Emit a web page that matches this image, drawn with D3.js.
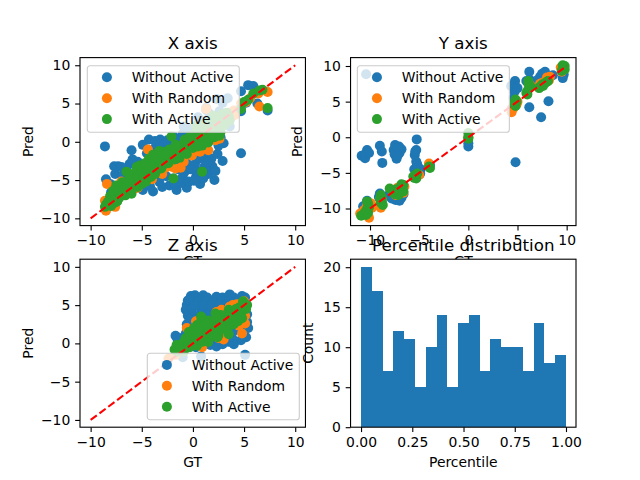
<!DOCTYPE html>
<html>
<head>
<meta charset="utf-8">
<script src="https://d3js.org/d3.v7.min.js"></script>
<style>
html, body { margin: 0; padding: 0; background: #fff; }
svg { display: block; }
text { font-family: "DejaVu Sans"; fill: #000; }
.tick text { font-size: 13.9px; }
</style>
</head>
<body>
<svg id="chart" width="640" height="480"></svg>
<script>
const seriesNames = ['Without Active', 'With Random', 'With Active'];
const seriesColors = ['#1f77b4', '#ff7f0e', '#2ca02c'];
const scatterTicks = [-10, -5, 0, 5, 10];
const identityLine = [-10, 10];

// [gt, pred] pairs
const xWithoutActive = [[-8.6,-0.6],[-6,-1.1],[-4.3,0.3],[-4.9,-0.4],[-7.3,-3.2],[-7.7,-3.2],[-8.5,-4.9],[-8.1,-5.5],[-7.6,-4.2],[-5.4,-2.6],[-5.1,-3.3],
[-4.5,-1.5],[-3.6,-0.6],[-3.2,0.3],[-2.5,0.2],[-1.8,0.6],[-1,1],[-2.9,-1.2],[-2.2,-2],[-1.5,-2.4],[-0.6,-2.8],[0.2,-2.9],[0.8,-2],[1.3,-1.8],[1.8,-2.2],[1.9,-3.2],[2.9,-2.5],[3,-0.2],[2.1,-5],
[1.5,-4.2],[0.7,-5.5],[0.3,-4.6],[-0.6,-6],[-1,-4.6],[-1.6,-6.3],[-2.3,-5.7],[-1.9,-4.8],[-3.9,-6.5],[-4.9,-6.3],[-3.3,-5.2],[-4.3,-5.4],[-5.5,-5.6],[-6.6,-6],[-7.1,-5.8],[-7.4,-7.3],[-8.3,-7.9],
[1.3,4.4],[1.9,3],[0,0.6],[0.9,-0.8],[-0.4,1.7],[0.5,3.2],[-0.9,2],[3.6,2],[3.4,5.7],[2.3,5.6],[1.3,4.2],[2.2,2.8],[3.6,3.3],[4.7,6.6],[5.4,7.4],[5.9,7.3],[6.2,6.7],[7.3,4.1],[6.3,5],[4.7,-1.5],[4.7,4],[5.2,5.1],[-3.3,-3],[-0.3,-1.2],[-6.2,-2.9],[-5.6,-4.5],
[-6.5,-3.5],[-6,-4.6],[-5.8,-5.8],[-5,-4.5],[-4.6,-3.3],[-4.2,-5.8],[-3.8,-4.4],[-3.4,-1.5],[-3,-5.9],[-2.6,-4.5],[-2.5,-3.2],[-2.1,-0.6],[-1.8,-5.5],[-1.4,-3.6],[-1.2,-5.4],[-0.8,-3.9],[-0.4,-5.2],[-0.2,-3.6],[0.1,-5.1],[0.4,-3.8],[0.6,-2.2],[1,-4.8],[1.1,-3.3],[1.4,-2.7],[2.2,-3.8],[2.4,-1.6],[2.5,-0.5],[2.7,0.6],[-3.7,0.1],[-4,-1.1],[-2.8,-0.3],[-1.3,0.2],[-0.6,0.4],[0.3,1.3],[1,2.7],[1.6,3.7],[2.6,4],[2.9,5.1],[-7.5,-6.5],[-8,-6.6],[-6.9,-4.4],[-7,-3.3],[-5.9,-2.3]];
const xWithRandom = [[-8.4,-5.5],[-8.5,-9],[-7.6,-8.5],[-6.7,-6.5],[-6.2,-5.8],[-5.4,-6],[-4.4,-1],[-4.2,-2.9],[-3.6,-3.3],[-3,-4.2],[-2.4,-1.8],[-2,-3.3],[-1.2,-3.4],[-0.8,-1.9],[-0.4,-1.5],[0.2,-0.6],[1.5,-1.1],[0.5,1],[1.4,1.6],
[2.3,1.6],[3,2.5],[3.4,2.8],[4,4.1],[1.3,4.3],[2.4,3],[4.7,5],[5.2,5.2],[6.5,4.6],[7.3,6.5],[6.4,6.3],[5.6,5.7],[-7.1,-7.1],[-5.6,-4.9],[-3.3,-2],[-1.5,-1.2],[0,-0.2],[-0.9,-0.3],
[-7.7,-6],[-6,-5.1],[-5.7,-6.1],[-4.7,-5.2],[-4,-4.9],[-2.7,-3.4],[-1.7,-3.5],[-0.9,-2.6],[-0.1,-1.8],[0.7,-1.3],[1.3,-0.9],[2.2,0.2],[2.6,0.4],[3.6,3.8],[4.1,3.5],[-7,-5.2],[-8.6,-7.7]];
const xWithActive = [[-8.6,-8.5],[-8.5,-8.2],[-8.1,-7.1],[-7.5,-5.7],[-7.1,-6.1],[-6.6,-7],[-6.5,-3.9],[-6.2,-6],[-5.7,-4.8],[-5.5,-3.3],[-5.2,-3.1],[-5,-5.5],[-4.8,-4],[-4.4,-3.5],[-4.3,-2.2],[-3.9,-1.7],[-3.5,-2.8],[-3.1,-3.5],[-3,-2.4],[-2.6,-2],
[-2.2,-2.1],[-2.1,0.7],[-2,-1.5],[-1.9,-4.8],[-1.5,-0.9],[-1.2,-1.4],[-1,-0.4],[-0.5,-0.6],[-0.2,-0.1],[0.1,0.5],[0.4,-0.2],[0.6,0.8],[0.9,-0.5],[0.9,-3.9],[1.2,1],[1.6,0.5],[1.7,1.6],[2.1,0.6],[2.4,2.2],[2.7,1.3],[3,3],[3.5,3.3],[3.1,2.2],[1.6,2.6],[2.2,1.5],[0.8,2],
[4.7,4.3],[5,5.2],[5.4,5.5],[5.9,6.3],[6.5,6.7],[6.8,6.8],[7.3,4.4],[-7.9,-7.5],[-7.7,-8],[-7.2,-7.3],[-6.5,-6.7],[-5.6,-5.2],[-4.5,-4.8],[-3.7,-4.2],[-3.2,-1.6],[-2.7,-1.3],
[-8.3,-7.8],[-8,-8.4],[-7.8,-6.4],[-7.4,-7.8],[-7,-6.8],[-6.9,-5.3],[-6.7,-6.1],[-6.3,-5],[-6,-6.8],[-5.9,-4.2],[-5.4,-5.9],[-5.3,-4.4],[-5,-3.6],[-4.7,-2.8],[-4.6,-5.2],[-4.1,-4.6],[-4,-3],[-3.6,-3.8],[-3.4,-2.2],[-3.3,-1.2],[-2.9,-3],[-2.8,-1.7],[-2.4,-2.8],[-2.3,-1],[-1.8,-2.3],[-1.7,-0.4],[-1.3,-2.1],[-1,-1.2],[-0.8,0.3],[-0.6,-1.6],[-0.3,0.7],[0,-0.8],[0.2,1.1],[0.5,-0.6],[0.7,1.4],[1.1,0.2],[1.3,1.8],[1.5,-0.1],[1.9,2.2],[2,0.9],[2.4,3],[2.6,0.8],[2.9,2.6],[3.3,3.8],[3.6,2.8],[0.3,2.1],[1,2.4],[2,3.4],[2.8,3.6]];

const yWithoutActive = [[-10.4,8.85],[-10.85,-2.6],[-10.5,-2.95],[-10.3,-1.8],[-10.45,-2.3],[-9,-1.2],[-8.8,-2],[-8.75,-3.6],[-7.45,-1.1],[-7.6,-1.8],[-7.05,-1.3],[-6.8,-1.7],[-7.3,-3],[-7,-2.2],[-7.5,-2.4],[-5.25,-0.3],[-5.3,-1.8],[-5.45,-2.5],[-5.3,-3.4],[-5.25,-4.1],[-5.5,-4.5],[-3.9,-3.9],[0,-1.3],[0,-0.85],[4.8,-3.5],[6.2,4.2],[7.4,2.8],[8.15,5.05],[6.2,9.2],[4.75,7.9],[4.75,7.1],[4.7,6.4],[4.35,7.2],[4.6,5.5],[5.9,7.9],[7.3,8.5],[7.8,9.2],[7.5,8.9],[8.2,8.4],[9.6,8.3],[7.9,7.9],[9.7,8.8],[6.3,8],
[-10.3,-8.9],[-10.7,-9.7],[-10.5,-10.3],[-9,-7.9],[-8.9,-9.5],[-7.4,-8.8],[-6.8,-8.5],[-7.6,-8.3],[-6.6,-8],[-8.1,-8.1],[-7.2,-1.6],[-7.2,-2.6],[-10.1,-2.2],[-5.2,-3.8],[-5.4,-2],[-7,-8.9],[-7.8,-8.6],[-4.85,-4.5],[-4.9,-5.1],[5,6.9],[7,8],[8.6,8.7],[7.1,7.6],[-10.2,-9.4],[-9.1,-8.4]];
const yWithRandom = [[-11,-10.7],[-10.1,-11.3],[-10.3,-9.6],[-9.8,-9.9],[-8.9,-9.9],[-8.8,-8.7],[-7.2,-7.1],[-6.9,-6.9],[-7.4,-8.1],[-6.8,-7.3],[-5.4,-5.5],[-4,-3.7],[0,0],[4.4,3.5],[4.6,4.1],[4.9,4.6],[6,6.2],[6.3,7.3],[7.6,7.7],[8,8.4],[8.3,8.5],[9.7,9.7],[9.5,9.2],[-9.9,-9.3],[-10.6,-10.2],[-9,-9.6],[-7.7,-7.5],[-6.5,-6.9],[-6.6,-7.8],[-5,-5.3],[-4,-3.9],[4.4,4],[5,5],[7.3,7.5],[8.2,8],[9.4,9.8]];
const yWithActive = [[-10.9,-11],[-10.5,-10.5],[-10.3,-10],[-10.2,-9.3],[-10.4,-10.9],[-8.9,-9.2],[-8.8,-8.5],[-8.9,-8.1],[-8.7,-9.5],[-8,-7.2],[-7.6,-7.6],[-7.2,-8],[-7,-7.5],[-6.9,-7.1],[-6.7,-7.2],[-6.6,-6.7],[-5.5,-5.7],[-5.4,-5.3],[-5.2,-5.1],[-3.9,-4.3],[0,0.6],[0,0],[0,-0.2],[4.7,4.9],[4.8,5.3],[4.8,4.4],[6.1,7.9],[6,6.5],[6.2,6.9],[6,6],[7.3,7.1],[7.5,7.4],[7.8,7.6],[8.1,7.9],[9.6,9.7],[9.7,9.9],[9.6,10.1],[9.8,9.5],
[-10.6,-10.7],[-10.1,-9.8],[-10.3,-9],[-10.2,-10.6],[-8.8,-9],[-9,-8.6],[-7.5,-8],[-7.1,-8.1],[-7.8,-7.4],[-7.3,-7.3],[-6.6,-7.6],[-6.8,-6.6],[-5.6,-5.5],[-5.3,-5.8],[-4,-4.1],[4.9,5],[4.7,4.6],[6.3,7.2],[5.9,6.2],[6.1,7.5],[7.2,6.9],[7.6,7.2],[8,7.8],[9.5,9.3],[9.8,10]];

const zWithoutActive = [[-0.2,6.2],[0.2,6.3],[1,6.3],[1.4,6],[2.3,6.1],[2.9,6],[3.6,6.4],[4,6],[4.8,6.2],[5.1,6],[-0.5,5.6],[-0.6,5],[-0.7,4.4],[-0.5,3.6],[-0.3,5.7],[0.5,5.5],[1.2,5.5],[2,5.4],[2.8,5.5],[3.5,5.5],[4.3,5.5],[-0.1,4.6],[0.7,4.7],[1.4,4.6],[2.2,4.5],[3,4.7],[3.9,4.7],[0,3.8],[0.8,3.9],[1.5,3.7],[2.3,3.7],[3.2,3.7],[5.1,4.6],[5.3,3.8],
[-1.7,1],[-1.5,0.5],[-1.1,0.7],[-0.7,1.3],[0,0.5],[0.8,0],[1.7,-0.2],[2.3,-0.4],[2.9,-0.1],[4,-0.1],[4,0.4],[5.2,0.8],[5.4,2],[5.3,2.8],[0.8,-1.7],[5.1,-1.5],[-1,-1.8],[4.8,1.5],[3.3,0.8],[1.1,1.1],[4.5,2.8],[-0.6,2.5],
[0.2,5],[1,5],[1.8,5],[2.6,5],[3.3,5.1],[4,5.2],[4.6,4.6],[-0.3,3.1],[0.4,3.2],[1.1,3.2],[1.9,3],[2.8,3],[3.6,2.9],[4.3,3.5],[4.7,0.4],[3.5,0.2],[2.6,0.3],[1.9,0.6],[1.3,0.2],[0.5,0.9],[-0.2,1.5],[-0.4,0.2],[5,2.2],[4.5,1.9],[3.9,1.5],[-0.2,-0.2],[0.3,-0.5]];
const zWithRandom = [[-2.4,-2],[-1.7,-1.5],[-1,-0.9],[-0.5,-0.4],[-0.6,2],[0.2,1.1],[0.3,2.9],[0.9,-0.5],[0.7,3.1],[1.3,0.5],[1.7,1.2],[2.5,0.7],[3,0.5],[3.2,2],[2.8,4.4],[3.5,3.5],[3.6,4.8],[4.5,2.3],[4.8,1.3],[5.1,2.6],[5,5.5],[4.6,5.1],[4.2,3.7],[5.1,3.6],[-0.2,1.3],[0.5,0.2],[1.9,2.7],[3,0.8],[3.9,5],[4.3,5.1],[2.3,4.1]];
const zWithActive = [[-1.8,-0.8],[-1.5,-1.1],[-1.6,-0.2],[-1,0],[-0.9,-1.1],[-0.5,0.3],[-0.4,1.5],[-0.3,-0.5],[0,0.8],[0.1,2],[0.4,-0.3],[0.5,1.4],[0.8,2.9],[0.8,3.5],[1.1,0.9],[1.2,2.5],[1.5,3],[1.5,0.2],[1.9,1.7],[2.1,2.3],[2.2,3.9],[2.5,1.1],[2.6,2.8],[2.9,3.4],[3,1.9],[3.3,2.6],[3.5,4.4],[3.5,1.2],[3.9,3.1],[4.1,4],[4.3,3.2],[4.5,4.7],[4.7,3.9],[4.9,5.5],[5,4.6],[5.1,5.1],[5.3,5],[5.2,4.5],[0.6,0.5],[1.7,0.8],[2.8,2.2],[-0.7,0.7],
[-1.2,-0.5],[-0.8,0.4],[-0.2,1],[-0.1,-0.1],[0.2,0.5],[0.3,1.6],[0.4,2.4],[0.6,1.9],[0.8,1.1],[0.9,0.2],[1,1.6],[1.3,2],[1.4,1.2],[1.6,2.4],[1.8,1.3],[2,2.8],[2.2,1.6],[2.3,3],[2.4,0.8],[2.7,1.9],[2.7,3.7],[3.1,2.9],[3.2,3.7],[3.4,1.9],[3.7,2.5],[3.7,3.8],[4,2.5],[4.2,4.5],[4.4,2.9],[4.6,4.3],[4.8,3.3],[4.9,4.9]];

const percentileCounts = [20, 17, 7, 12, 11, 5, 10, 14, 5, 13, 14, 7, 11, 10, 10, 7, 13, 8, 9];
const percentileTicks = [0, 0.25, 0.5, 0.75, 1];
const countTicks = [0, 5, 10, 15, 20];

const svg = d3.select('svg#chart');
const plotW = 225.45, plotH = 168;
const tickLen = 4.86, tickPad = 4.86;
const dotR = 5;

// one subplot: white background, then marks from draw(), then axes and text
const addPanel = (cfg) => {
    const g = svg.append('g').attr('transform', `translate(${cfg.left},${cfg.top})`);
    g.append('rect').attr('width', plotW).attr('height', plotH).attr('fill', '#fff');
    const x = d3.scaleLinear().domain(cfg.xDomain).range([0, plotW]);
    const y = d3.scaleLinear().domain(cfg.yDomain).range([plotH, 0]);
    cfg.draw(g, x, y);

    const ax = g.append('g').attr('transform', `translate(0,${plotH})`)
        .call(d3.axisBottom(x).tickValues(cfg.xTicks).tickFormat(cfg.xFormat).tickSize(tickLen).tickPadding(tickPad).tickSizeOuter(0));
    const ay = g.append('g')
        .call(d3.axisLeft(y).tickValues(cfg.yTicks).tickFormat(d3.format('d')).tickSize(tickLen).tickPadding(tickPad).tickSizeOuter(0));
    [ax, ay].forEach(a => {
        a.select('.domain').remove();
        a.selectAll('line').attr('stroke', '#000').attr('stroke-width', 1.11);
        a.attr('font-family', null).attr('font-size', null);
    });
    g.append('rect').attr('width', plotW).attr('height', plotH)
        .attr('fill', 'none').attr('stroke', '#000').attr('stroke-width', 1.11);

    g.append('text').attr('x', plotW / 2).attr('y', -8.3).attr('text-anchor', 'middle')
        .attr('font-size', 16.67).text(cfg.title);
    g.append('text').attr('x', plotW / 2).attr('y', plotH + cfg.xLabelDy).attr('text-anchor', 'middle')
        .attr('font-size', 13.9).text(cfg.xLabel);
    g.append('text').attr('transform', `translate(${cfg.yLabelDx},${plotH / 2}) rotate(-90)`)
        .attr('text-anchor', 'middle').attr('font-size', 13.9).text(cfg.yLabel);
    return g;
};

const addLegend = (g, legendX, legendY) => {
    const lg = g.append('g').attr('transform', `translate(${legendX},${legendY})`);
    lg.append('rect').attr('width', 152).attr('height', 66.5).attr('rx', 2.8)
        .attr('fill', '#fff').attr('fill-opacity', 0.8)
        .attr('stroke', '#ccc').attr('stroke-width', 1.11);
    const rows = lg.selectAll('g').data(seriesNames).join('g')
        .attr('transform', (d, i) => `translate(0,${11.6 + i * 20.9})`);
    rows.append('circle').attr('cx', 19.6).attr('r', dotR).attr('fill', (d, i) => seriesColors[i]);
    rows.append('text').attr('x', 44.4).attr('y', 5).attr('font-size', 13.9).text(d => d);
};

const panels = [
    { left: 80, top: 57.6, xDomain: [-11.04, 11], yDomain: [-10.95, 11], title: 'X axis',
      series: [xWithoutActive, xWithRandom, xWithActive], lx: 7.3, ly: 8.1, yLabelDx: -47 },
    { left: 350.55, top: 57.6, xDomain: [-11.98, 10.95], yDomain: [-12.4, 11.18], title: 'Y axis',
      series: [yWithoutActive, yWithRandom, yWithActive], lx: 6.8, ly: 8.1, yLabelDx: -48.5 },
    { left: 80, top: 259.2, xDomain: [-11.04, 11], yDomain: [-10.95, 11], title: 'Z axis',
      series: [zWithoutActive, zWithRandom, zWithActive], lx: 67.3, ly: 94.1, yLabelDx: -47 },
];

panels.forEach(p => {
    const g = addPanel({
        left: p.left, top: p.top, xDomain: p.xDomain, yDomain: p.yDomain,
        xTicks: scatterTicks, yTicks: scatterTicks, xFormat: d3.format('d'),
        title: p.title, xLabel: 'GT', yLabel: 'Pred', xLabelDy: 40, yLabelDx: p.yLabelDx,
        draw: (g, x, y) => {
            p.series.forEach((points, i) => {
                g.append('g').selectAll('circle').data(points).join('circle')
                    .attr('cx', d => x(d[0])).attr('cy', d => y(d[1])).attr('r', dotR)
                    .attr('fill', seriesColors[i]);
            });
            g.append('path')
                .attr('d', d3.line().x(d => x(d)).y(d => y(d))(identityLine))
                .attr('fill', 'none').attr('stroke', 'red').attr('stroke-width', 2.08)
                .attr('stroke-dasharray', '7.7,3.33');
        },
    });
    addLegend(g, p.lx, p.ly);
});

addPanel({
    left: 350.55, top: 259.2, xDomain: [-0.0512, 1.0488], yDomain: [0, 21],
    xTicks: percentileTicks, yTicks: countTicks, xFormat: d3.format('.2f'),
    title: 'Percentile distribution', xLabel: 'Percentile', yLabel: 'Count', xLabelDy: 40, yLabelDx: -37.5,
    draw: (g, x, y) => {
        const edge = d3.scaleLinear().domain([0, percentileCounts.length]).range([x(0), x(1)]);
        g.append('g').selectAll('rect').data(percentileCounts).join('rect')
            .attr('x', (d, i) => edge(i)).attr('width', (d, i) => edge(i + 1) - edge(i))
            .attr('y', d => y(d)).attr('height', d => y(0) - y(d))
            .attr('fill', seriesColors[0]).attr('shape-rendering', 'crispEdges');
    },
});
</script>
</body>
</html>
